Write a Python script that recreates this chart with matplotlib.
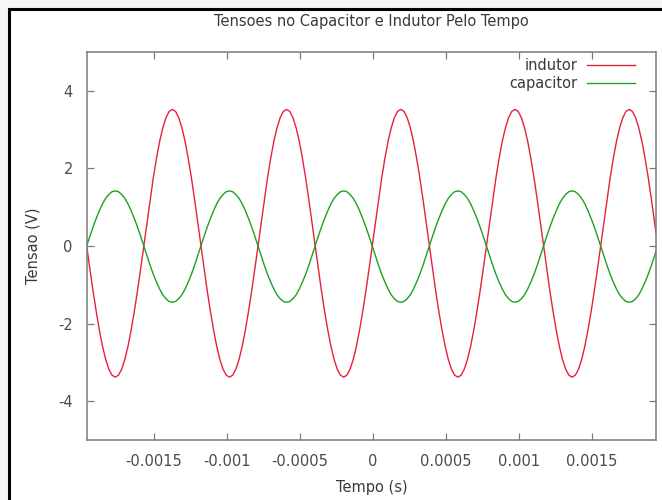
import matplotlib
matplotlib.use("Agg")
import matplotlib.pyplot as plt
from matplotlib.patches import Rectangle

# ---- data ----
time_us = [
    -1959.0, -1937.3, -1915.5, -1893.8, -1872.1, -1850.4, -1828.6, -1806.9, -1785.2, -1763.4,
    -1741.7, -1720.0, -1698.3, -1676.5, -1654.8, -1633.1, -1611.4, -1589.6, -1567.9, -1546.2,
    -1524.4, -1502.7, -1481.0, -1459.3, -1437.5, -1415.8, -1394.1, -1372.3, -1350.6, -1328.9,
    -1307.2, -1285.4, -1263.7, -1242.0, -1220.2, -1198.5,
    -1176.8, -1155.1, -1133.3, -1111.6, -1089.9, -1068.2, -1046.4, -1024.7, -1003.0, -981.2,
    -959.5, -937.8, -916.1, -894.3, -872.6, -850.9, -829.2, -807.4, -785.7, -764.0,
    -742.2, -720.5, -698.8, -677.1, -655.3, -633.6, -611.9, -590.1, -568.4, -546.7,
    -525.0, -503.2, -481.5, -459.8, -438.0, -416.3,
    -394.6, -372.9, -351.1, -329.4, -307.7, -286.0, -264.2, -242.5, -220.8, -199.0,
    -177.3, -155.6, -133.9, -112.1, -90.4, -68.7, -47.0, -25.2, -3.5, 18.2,
    40.0, 61.7, 83.4, 105.1, 126.9, 148.6, 170.3, 192.1, 213.8, 235.5,
    257.2, 279.0, 300.7, 322.4, 344.2, 365.9,
    387.6, 409.3, 431.1, 452.8, 474.5, 496.2, 518.0, 539.7, 561.4, 583.2,
    604.9, 626.6, 648.3, 670.1, 691.8, 713.5, 735.2, 757.0, 778.7, 800.4,
    822.2, 843.9, 865.6, 887.3, 909.1, 930.8, 952.5, 974.3, 996.0, 1017.7,
    1039.4, 1061.2, 1082.9, 1104.6, 1126.4, 1148.1,
    1169.8, 1191.5, 1213.3, 1235.0, 1256.7, 1278.4, 1300.2, 1321.9, 1343.6, 1365.4,
    1387.1, 1408.8, 1430.5, 1452.3, 1474.0, 1495.7, 1517.4, 1539.2, 1560.9, 1582.6,
    1604.4, 1626.1, 1647.8, 1669.5, 1691.3, 1713.0, 1734.7, 1756.5, 1778.2, 1799.9,
    1821.6, 1843.4, 1865.1, 1886.8, 1908.6, 1930.3,
    1940.0,
]

indutor_v = [
    0.00, -0.59, -1.16, -1.69, -2.17, -2.59, -2.93, -3.18, -3.33, -3.38,
    -3.33, -3.18, -2.93, -2.59, -2.17, -1.69, -1.16, -0.59, 0.00, 0.61,
    1.20, 1.76, 2.26, 2.70, 3.05, 3.31, 3.47, 3.52, 3.47, 3.31,
    3.05, 2.70, 2.26, 1.76, 1.20, 0.61,
    0.00, -0.59, -1.16, -1.69, -2.17, -2.59, -2.93, -3.18, -3.33, -3.38,
    -3.33, -3.18, -2.93, -2.59, -2.17, -1.69, -1.16, -0.59, 0.00, 0.61,
    1.20, 1.76, 2.26, 2.70, 3.05, 3.31, 3.47, 3.52, 3.47, 3.31,
    3.05, 2.70, 2.26, 1.76, 1.20, 0.61,
    0.00, -0.59, -1.16, -1.69, -2.17, -2.59, -2.93, -3.18, -3.33, -3.38,
    -3.33, -3.18, -2.93, -2.59, -2.17, -1.69, -1.16, -0.59, 0.00, 0.61,
    1.20, 1.76, 2.26, 2.70, 3.05, 3.31, 3.47, 3.52, 3.47, 3.31,
    3.05, 2.70, 2.26, 1.76, 1.20, 0.61,
    0.00, -0.59, -1.16, -1.69, -2.17, -2.59, -2.93, -3.18, -3.33, -3.38,
    -3.33, -3.18, -2.93, -2.59, -2.17, -1.69, -1.16, -0.59, 0.00, 0.61,
    1.20, 1.76, 2.26, 2.70, 3.05, 3.31, 3.47, 3.52, 3.47, 3.31,
    3.05, 2.70, 2.26, 1.76, 1.20, 0.61,
    0.00, -0.59, -1.16, -1.69, -2.17, -2.59, -2.93, -3.18, -3.33, -3.38,
    -3.33, -3.18, -2.93, -2.59, -2.17, -1.69, -1.16, -0.59, 0.00, 0.61,
    1.20, 1.76, 2.26, 2.70, 3.05, 3.31, 3.47, 3.52, 3.47, 3.31,
    3.05, 2.70, 2.26, 1.76, 1.20, 0.61,
    0.34,
]

capacitor_v = [
    0.00, 0.25, 0.49, 0.71, 0.91, 1.09, 1.23, 1.33, 1.40, 1.42,
    1.40, 1.33, 1.23, 1.09, 0.91, 0.71, 0.49, 0.25, 0.00, -0.25,
    -0.50, -0.73, -0.93, -1.11, -1.26, -1.36, -1.43, -1.45, -1.43, -1.36,
    -1.26, -1.11, -0.93, -0.73, -0.50, -0.25,
    0.00, 0.25, 0.49, 0.71, 0.91, 1.09, 1.23, 1.33, 1.40, 1.42,
    1.40, 1.33, 1.23, 1.09, 0.91, 0.71, 0.49, 0.25, 0.00, -0.25,
    -0.50, -0.73, -0.93, -1.11, -1.26, -1.36, -1.43, -1.45, -1.43, -1.36,
    -1.26, -1.11, -0.93, -0.73, -0.50, -0.25,
    0.00, 0.25, 0.49, 0.71, 0.91, 1.09, 1.23, 1.33, 1.40, 1.42,
    1.40, 1.33, 1.23, 1.09, 0.91, 0.71, 0.49, 0.25, 0.00, -0.25,
    -0.50, -0.73, -0.93, -1.11, -1.26, -1.36, -1.43, -1.45, -1.43, -1.36,
    -1.26, -1.11, -0.93, -0.73, -0.50, -0.25,
    0.00, 0.25, 0.49, 0.71, 0.91, 1.09, 1.23, 1.33, 1.40, 1.42,
    1.40, 1.33, 1.23, 1.09, 0.91, 0.71, 0.49, 0.25, 0.00, -0.25,
    -0.50, -0.73, -0.93, -1.11, -1.26, -1.36, -1.43, -1.45, -1.43, -1.36,
    -1.26, -1.11, -0.93, -0.73, -0.50, -0.25,
    0.00, 0.25, 0.49, 0.71, 0.91, 1.09, 1.23, 1.33, 1.40, 1.42,
    1.40, 1.33, 1.23, 1.09, 0.91, 0.71, 0.49, 0.25, 0.00, -0.25,
    -0.50, -0.73, -0.93, -1.11, -1.26, -1.36, -1.43, -1.45, -1.43, -1.36,
    -1.26, -1.11, -0.93, -0.73, -0.50, -0.25,
    -0.14,
]

x_ticks = [-0.0015, -0.001, -0.0005, 0, 0.0005, 0.001, 0.0015]
x_tick_labels = ["-0.0015", "-0.001", "-0.0005", "0", "0.0005", "0.001", "0.0015"]
y_ticks = [-4, -2, 0, 2, 4]
y_tick_labels = ["-4", "-2", "0", "2", "4"]

series_names = ["indutor", "capacitor"]

# ---- figure ----
plt.rcParams["font.family"] = ["DejaVu Sans"]
W, H = 662, 500
fig = plt.figure(figsize=(W / 100, H / 100), dpi=100, facecolor="#f6f6f6")

# outer black frame (only the left and top edges are visible in the reference)
fig.patches.append(Rectangle((8.5 / W, -0.1), 1.2, 1 - 8.5 / H + 0.1,
                             transform=fig.transFigure, facecolor="white",
                             edgecolor="black", lw=2.2, zorder=-10))

left, right, top, bottom = 86.7, 656.0, 52.0, 440.0
ax = fig.add_axes([left / W, 1 - bottom / H, (right - left) / W, (bottom - top) / H])
ax.set_zorder(5)
ax.set_facecolor("white")

time_s = [t * 1e-6 for t in time_us]
ax.plot(time_s, indutor_v, color="#e8203a", lw=1.0, label=series_names[0])
ax.plot(time_s, capacitor_v, color="#1fa01f", lw=1.0, label=series_names[1])

ax.set_xlim(time_s[0], time_s[-1])
ax.set_ylim(-5, 5)
ax.set_xticks(x_ticks)
ax.set_xticklabels(x_tick_labels)
ax.set_yticks(y_ticks)
ax.set_yticklabels(y_tick_labels)

for sp in ax.spines.values():
    sp.set_color("#7a7a7a")
    sp.set_linewidth(1.1)

ax.tick_params(direction="in", length=5, width=0.9, color="#7a7a7a",
               top=True, right=True, labelsize=10.5, labelcolor="#4a4a4a")
ax.tick_params(axis="y", pad=10)
ax.tick_params(axis="x", pad=10)

ax.set_title("Tensoes no Capacitor e Indutor Pelo Tempo", fontsize=10.5,
             color="#3a3a3a", pad=19)
ax.set_xlabel("Tempo (s)", fontsize=10.5, color="#3a3a3a", labelpad=8)
ax.set_ylabel("Tensao (V)", fontsize=10.5, color="#3a3a3a", labelpad=13)

leg = ax.legend(loc="upper right", frameon=False, markerfirst=False,
                fontsize=10.5, handlelength=3.3, handletextpad=0.7,
                labelspacing=0.25, borderaxespad=0.0,
                bbox_to_anchor=(0.974, 1.0))
for t in leg.get_texts():
    t.set_color("#3a3a3a")
try:
    for col in leg._legend_handle_box.get_children():
        col.align = "right"
except Exception:
    pass

fig.savefig("out.png", dpi=100, facecolor=fig.get_facecolor())
